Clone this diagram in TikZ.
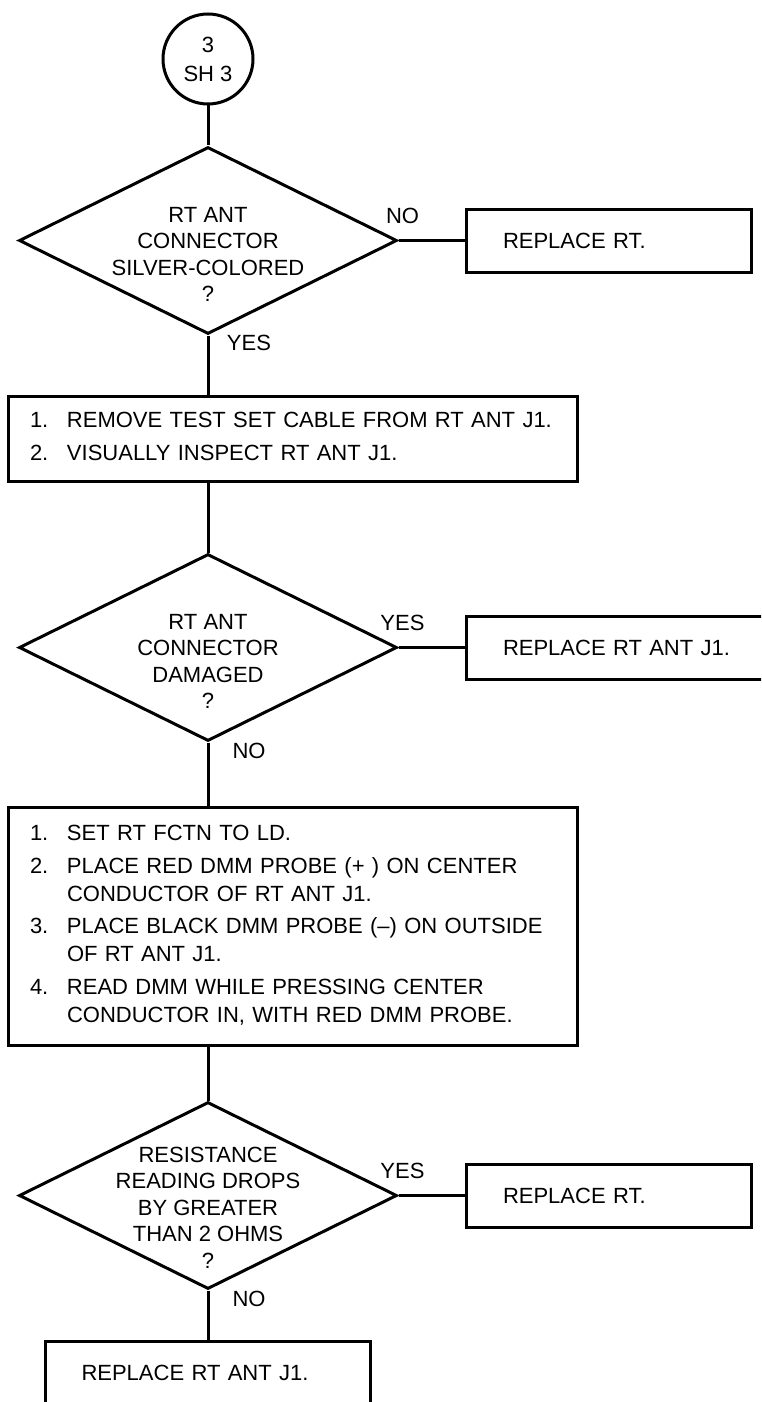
\documentclass[tikz,border=0pt]{standalone}
\usepackage{fontspec}
\setmainfont{Liberation Sans}
\usepackage{tikz}
\usetikzlibrary{positioning,shapes.geometric}

\begin{document}
\begin{tikzpicture}[line width=3pt, font=\fontsize{22}{26.5}\selectfont,
  dec/.style={draw,diamond,minimum width=378pt,minimum height=187pt,inner sep=0pt},
  qtxt/.style={align=center,inner sep=0pt},
  stepbox/.style={draw,inner xsep=22pt,text width=525pt,align=left,font=\fontsize{22}{28}\selectfont},
  endbox/.style={draw,minimum height=63pt,inner xsep=37pt,align=left},
  lbl/.style={inner sep=0pt}]
\useasboundingbox (0,0) rectangle (761pt,-1402pt);
\clip (0,0) rectangle (761pt,-1402pt);
\node[draw,circle,minimum size=90pt,inner sep=0pt,align=center,font=\fontsize{22}{29}\selectfont] (circ) at (208pt,-59pt) {3\\SH 3};
\node[dec, below=40pt of circ] (d1) {};
\node[qtxt, yshift=-14pt] (q1) at (d1) {RT ANT\\CONNECTOR\\SILVER-COLORED\\?};
\node[endbox, text width=211pt, right=66pt of d1] (rt1) {REPLACE RT.};
\node[stepbox, minimum height=85pt, below=59pt of d1, xshift=84.5pt] (s1) {\begin{tabular}{@{}p{37pt}@{}l@{}}
1. & REMOVE TEST SET CABLE FROM RT ANT J1.\\[4.5pt]
2. & VISUALLY INSPECT RT ANT J1.
\end{tabular}};
\node[dec, below=70pt of s1, xshift=-84.5pt] (d2) {};
\node[qtxt, yshift=-14pt] (q2) at (d2) {RT ANT\\CONNECTOR\\DAMAGED\\?};
\node[endbox, text width=246pt, right=66pt of d2] (rtj) {REPLACE RT ANT J1.};
\node[stepbox, minimum height=238pt, below=63pt of d2, xshift=84.5pt] (s2) {\begin{tabular}{@{}p{37pt}@{}l@{}}
1. & SET RT FCTN TO LD.\\[4.5pt]
2. & PLACE RED DMM PROBE (+ ) ON CENTER\\
   & CONDUCTOR OF RT ANT J1.\\[4.5pt]
3. & PLACE BLACK DMM PROBE (–) ON OUTSIDE\\
   & OF RT ANT J1.\\[4.5pt]
4. & READ DMM WHILE PRESSING CENTER\\
   & CONDUCTOR IN, WITH RED DMM PROBE.
\end{tabular}};
\node[dec, below=54pt of s2, xshift=-84.5pt] (d3) {};
\node[qtxt, yshift=-12pt] (q3) at (d3) {RESISTANCE\\READING DROPS\\BY GREATER\\THAN 2 OHMS\\?};
\node[endbox, text width=211pt, right=66pt of d3] (rt3) {REPLACE RT.};
\node[endbox, text width=253pt, inner xsep=36pt, below=49pt of d3] (s3) {REPLACE RT ANT J1.};
% yes / no
\node[lbl] (no1) at ([shift={(4pt,25pt)}]d1.east) {NO};
\node[lbl] (yes1) at ([shift={(41pt,-7pt)}]d1.south) {YES};
\node[lbl] (yes2) at ([shift={(4pt,25pt)}]d2.east) {YES};
\node[lbl] (no2) at ([shift={(41pt,-8pt)}]d2.south) {NO};
\node[lbl] (yes3) at ([shift={(4pt,25pt)}]d3.east) {YES};
\node[lbl] (no3) at ([shift={(41pt,-8pt)}]d3.south) {NO};
\draw (circ) -- (d1);
\draw (d1) -- (rt1);
\draw (d1) -- (d1 |- s1.north);
\draw (s1.south -| d2) -- (d2);
\draw (d2) -- (rtj);
\draw (d2) -- (d2 |- s2.north);
\draw (s2.south -| d3) -- (d3);
\draw (d3) -- (rt3);
\draw (d3) -- (s3);
\end{tikzpicture}
\end{document}
